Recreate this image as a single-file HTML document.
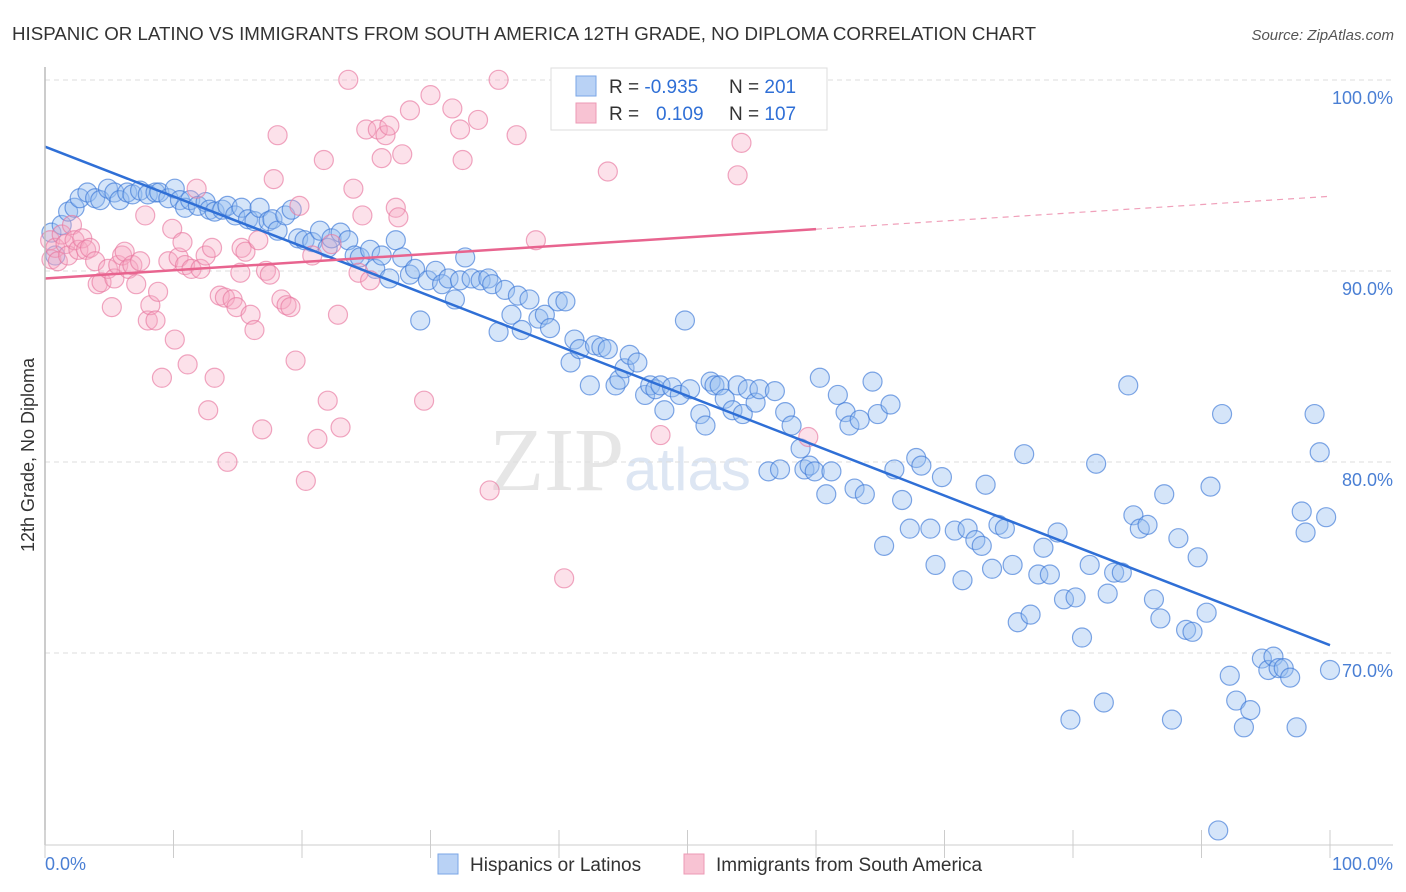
<!DOCTYPE html>
<html><head><meta charset="utf-8"><style>
body{margin:0;background:#fff;font-family:"Liberation Sans",sans-serif}
svg{display:block}
</style></head><body>
<svg id="chart" width="1406" height="892">
<text x="12" y="40" font-size="18" fill="#333" textLength="1024" lengthAdjust="spacingAndGlyphs">HISPANIC OR LATINO VS IMMIGRANTS FROM SOUTH AMERICA 12TH GRADE, NO DIPLOMA CORRELATION CHART</text>
<text x="1394" y="40" font-size="15" fill="#555" font-style="italic" text-anchor="end">Source: ZipAtlas.com</text>
<text x="34" y="455" font-size="18" fill="#333" text-anchor="middle" transform="rotate(-90 34 455)">12th Grade, No Diploma</text>
<text x="620" y="490" font-size="90" fill="#e6e6e6" font-family="Liberation Serif,serif" text-anchor="middle">ZIP<tspan font-size="60" fill="#dde6f3" font-family="Liberation Sans,sans-serif">atlas</tspan></text>
<g id="grid"></g><g id="pts"></g><g id="lines"></g>
<line x1="45" y1="67" x2="45" y2="845" stroke="#bbb" stroke-width="1.5"/>
<line x1="45" y1="845" x2="1393" y2="845" stroke="#ccc" stroke-width="1"/>
<g id="xt"></g>
<text x="45" y="870" font-size="18" fill="#4a7fd4">0.0%</text>
<text x="1393" y="870" font-size="18" fill="#4a7fd4" text-anchor="end">100.0%</text>
<g>
<rect x="551" y="68" width="276" height="62" fill="#fff" stroke="#ddd"/>
<rect x="576" y="76" width="20" height="20" fill="#b9d2f5" stroke="#7aa6e6"/>
<rect x="576" y="103" width="20" height="20" fill="#f8c3d3" stroke="#ec9ab4"/>
<text x="609" y="93" font-size="19" fill="#333">R = <tspan fill="#2f6fd6">-0.935</tspan><tspan x="729">N = </tspan><tspan fill="#2f6fd6">201</tspan></text>
<text x="609" y="120" font-size="19" fill="#333">R = <tspan x="656" fill="#2f6fd6">0.109</tspan><tspan x="729">N = </tspan><tspan fill="#2f6fd6">107</tspan></text>
</g>
<g>
<rect x="438" y="854" width="20" height="20" fill="#b9d2f5" stroke="#7aa6e6"/>
<text x="470" y="871" font-size="19" fill="#333">Hispanics or Latinos</text>
<rect x="684" y="854" width="20" height="20" fill="#f8c3d3" stroke="#ec9ab4"/>
<text x="716" y="871" font-size="19" fill="#333">Immigrants from South America</text>
</g>
</svg>
<script>
const yTicks=[100,90,80,70];
const yTickLabels=["100.0%","90.0%","80.0%","70.0%"];
const xTickVals=[0,10,20,30,40,50,60,70,80,90,100];
const blueX=[0.5,0.8,1.3,1.8,2.3,2.7,3.3,3.9,4.3,4.9,5.4,5.8,6.4,6.8,7.4,8.0,8.6,8.9,9.6,10.1,10.5,10.9,11.3,11.9,12.5,12.8,13.2,13.8,14.2,14.8,15.3,15.8,16.3,16.7,17.4,17.7,18.1,18.7,19.2,19.7,20.2,20.8,21.4,22.0,22.3,23.0,23.6,24.1,24.5,25.3,25.7,26.2,26.8,27.3,27.8,28.4,28.8,29.2,29.8,30.4,30.9,31.4,31.9,32.3,32.7,33.2,33.9,34.5,34.8,35.3,35.8,36.3,36.8,37.1,37.7,38.4,38.9,39.3,39.9,40.5,40.9,41.2,41.6,42.4,42.8,43.3,43.8,44.4,44.7,45.1,45.5,46.1,46.7,47.1,47.5,47.9,48.2,48.8,49.4,49.8,50.2,51.0,51.4,51.8,52.1,52.5,52.9,53.5,53.9,54.3,54.7,55.3,55.6,56.3,56.8,57.2,57.6,58.1,58.8,59.1,59.5,59.9,60.3,60.8,61.2,61.7,62.3,62.6,63.0,63.4,63.8,64.4,64.8,65.3,65.8,66.1,66.7,67.3,67.8,68.2,68.9,69.3,69.8,70.8,71.4,71.8,72.4,72.9,73.2,73.7,74.2,74.7,75.3,75.7,76.2,76.7,77.3,77.7,78.2,78.8,79.3,79.8,80.2,80.7,81.3,81.8,82.4,82.7,83.2,83.8,84.3,84.7,85.2,85.8,86.3,86.8,87.1,87.7,88.2,88.8,89.3,89.7,90.4,90.7,91.3,91.6,92.2,92.7,93.3,93.8,94.7,95.2,95.6,96.0,96.4,96.9,97.4,97.8,98.1,98.8,99.2,99.7,100];
const blueY=[92.9,91.7,93.3,94.0,94.2,94.7,95.0,94.7,94.6,95.2,95.0,94.6,95.0,94.9,95.1,94.9,95.0,95.0,94.7,95.2,94.6,94.2,94.6,94.3,94.5,94.1,94.0,94.1,94.3,93.8,94.2,93.6,93.5,94.2,93.5,93.6,93.0,93.8,94.1,92.6,92.5,92.4,93.0,92.1,92.6,92.9,92.5,91.7,91.6,92.0,91.0,91.7,90.5,92.5,91.6,90.7,91.0,88.3,90.4,90.9,90.2,90.5,89.4,90.4,91.6,90.5,90.4,90.5,90.2,87.7,89.9,88.6,89.6,87.8,89.4,88.4,88.6,87.9,89.3,89.3,86.1,87.3,86.8,84.9,87.0,86.9,86.8,84.9,85.2,85.8,86.5,86.1,84.4,84.9,84.7,84.9,83.6,84.8,84.4,88.3,84.7,83.4,82.8,85.1,84.9,84.9,84.2,83.6,84.9,83.4,84.7,84.0,84.7,80.4,84.6,80.5,83.5,82.8,81.6,80.5,80.7,80.4,85.3,79.2,80.4,84.4,83.5,82.8,79.5,83.1,79.2,85.1,83.4,76.5,83.9,80.5,78.9,77.4,81.1,80.7,77.4,75.5,80.1,77.3,74.7,77.4,76.8,76.5,79.7,75.3,77.6,77.4,75.5,72.5,81.3,72.9,75.0,76.4,75.0,77.2,73.7,67.4,73.8,71.7,75.5,80.8,68.3,74.0,75.1,75.1,84.9,78.1,77.4,77.6,73.7,72.7,79.2,67.4,76.9,72.1,72.0,75.9,73.0,79.6,61.6,83.4,69.7,68.4,67.0,67.9,70.6,70.0,70.7,70.1,70.1,69.6,67.0,78.3,77.2,83.4,81.4,78.0,70.0];
const pinkX=[0.4,0.5,0.8,1.0,1.3,1.6,1.8,2.1,2.3,2.6,2.9,3.2,3.5,3.9,4.1,4.4,4.9,5.2,5.4,5.7,6.0,6.2,6.5,6.8,7.1,7.4,7.8,8.0,8.2,8.6,8.8,9.1,9.6,9.9,10.1,10.4,10.7,10.9,11.1,11.4,11.8,12.1,12.5,12.7,13.0,13.2,13.6,14.0,14.2,14.6,14.9,15.2,15.3,15.6,16.0,16.3,16.6,16.9,17.2,17.5,17.8,18.1,18.4,18.8,19.1,19.5,19.8,20.3,20.8,21.2,21.7,22.0,22.3,22.8,23.0,23.6,24.0,24.4,24.7,25.0,25.3,25.9,26.2,26.5,26.8,27.3,27.5,27.8,28.4,29.5,30.0,31.7,32.3,32.5,33.7,34.6,35.3,36.7,38.2,40.4,43.8,47.9,53.9,54.2,59.4];
const pinkY=[92.5,91.5,92.1,91.4,92.8,92.3,91.7,93.3,92.5,92.0,92.6,92.0,92.1,91.4,90.2,90.3,91.0,89.0,90.5,91.2,91.7,91.9,91.0,91.2,90.2,91.4,93.8,88.3,89.1,88.3,89.8,85.3,91.4,93.1,87.3,91.6,92.4,91.2,86.0,91.0,95.2,91.0,91.7,83.6,92.1,85.3,89.6,89.5,80.9,89.4,89.0,90.8,92.1,91.9,88.6,87.8,92.5,82.6,90.9,90.7,95.7,98.0,89.4,89.1,89.0,86.2,94.3,79.9,91.7,82.1,96.7,84.1,92.3,88.6,82.7,100.9,95.2,90.8,93.8,98.3,90.4,98.3,96.8,98.0,98.5,94.2,93.7,97.0,99.3,84.1,100.1,99.4,98.3,96.7,98.8,79.4,100.9,98.0,92.5,74.8,96.1,82.3,95.9,97.6,82.2];
const blueTrend=[97.4,71.3];
const pinkTrend=[90.5,94.8];
const pinkSolidEnd=60;

const NS="http://www.w3.org/2000/svg";
function xs(v){return 45+v*12.85;}
function ys(v){return 97+(100-v)*19.1;}
function mk(tag,attrs,parent){const e=document.createElementNS(NS,tag);for(const k in attrs)e.setAttribute(k,attrs[k]);parent.appendChild(e);return e;}
const grid=document.getElementById('grid');
yTicks.forEach((t,i)=>{
  const g=mk('line',{x1:45,x2:1393,y1:ys(t)-17,y2:ys(t)-17,stroke:'#ddd','stroke-dasharray':'5,4'},grid);
  
  
  const tx=mk('text',{x:1393,y:ys(t)+7,'font-size':18,fill:'#4a7fd4','text-anchor':'end'},grid);
  tx.textContent=yTickLabels[i];
  
  
});
const xt=document.getElementById('xt');
xTickVals.forEach(v=>{
  const l=mk('line',{x1:xs(v),x2:xs(v),y1:830,y2:858,stroke:'#ccc'},xt);
  
  
});
const pts=document.getElementById('pts');
blueX.forEach((x,i)=>{
  const c=mk('circle',{cx:xs(x),cy:ys(blueY[i]),r:9.5,fill:'rgba(150,190,240,0.4)',stroke:'rgba(60,120,215,0.65)','stroke-width':1.2},pts);
  
  
});
pinkX.forEach((x,i)=>{
  const c=mk('circle',{cx:xs(x),cy:ys(pinkY[i]),r:9.5,fill:'rgba(245,170,195,0.35)',stroke:'rgba(232,120,160,0.65)','stroke-width':1.2},pts);
  
  
});
const lines=document.getElementById('lines');
const bl=mk('line',{x1:xs(0),y1:ys(blueTrend[0]),x2:xs(100),y2:ys(blueTrend[1]),stroke:'#2f6fd6','stroke-width':2.5},lines);


const pm=pinkTrend[0]+(pinkTrend[1]-pinkTrend[0])*pinkSolidEnd/100;
const pl=mk('line',{x1:xs(0),y1:ys(pinkTrend[0]),x2:xs(pinkSolidEnd),y2:ys(pm),stroke:'#e8648f','stroke-width':2.5},lines);


const pd=mk('line',{x1:xs(pinkSolidEnd),y1:ys(pm),x2:xs(100),y2:ys(pinkTrend[1]),stroke:'#f0a0ba','stroke-width':1.2,'stroke-dasharray':'6,5'},lines);


</script>
</body></html>
